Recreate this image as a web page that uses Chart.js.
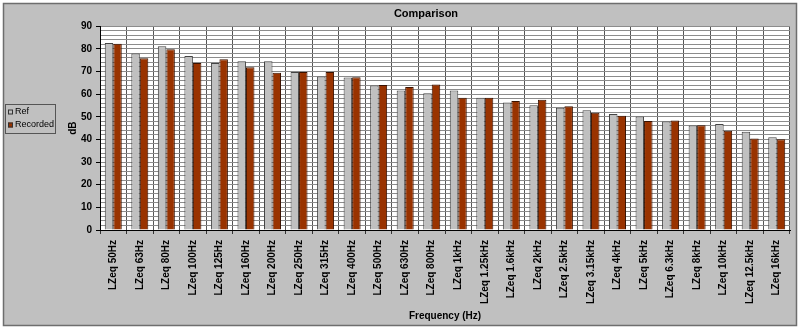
<!DOCTYPE html>
<html>
<head>
<meta charset="utf-8">
<title>Comparison</title>
<script src="https://cdn.jsdelivr.net/npm/chart.js@4/dist/chart.umd.min.js"></script>
<style>
  body { margin: 0; background: #fff; }
  canvas { display: block; }
</style>
</head>
<body>
<canvas id="comparison_chart" width="800" height="329"></canvas>
<script>
const bands = [
  'LZeq 50Hz', 'LZeq 63Hz', 'LZeq 80Hz', 'LZeq 100Hz', 'LZeq 125Hz', 'LZeq 160Hz',
  'LZeq 200Hz', 'LZeq 250Hz', 'LZeq 315Hz', 'LZeq 400Hz', 'LZeq 500Hz', 'LZeq 630Hz',
  'LZeq 800Hz', 'LZeq 1kHz', 'LZeq 1.25kHz', 'LZeq 1.6kHz', 'LZeq 2kHz', 'LZeq 2.5kHz',
  'LZeq 3.15kHz', 'LZeq 4kHz', 'LZeq 5kHz', 'LZeq 6.3kHz', 'LZeq 8kHz', 'LZeq 10kHz',
  'LZeq 12.5kHz', 'LZeq 16kHz'
];

const refLevels = [
  82.6, 77.9, 81.2, 76.8, 73.7, 74.5, 74.5, 69.8, 67.8, 67.3, 63.8, 61.6, 60.4,
  61.6, 58.4, 56.3, 55.1, 54.0, 52.9, 51.2, 50.1, 47.9, 46.2, 46.8, 43.4, 41.0
];

const recordedLevels = [
  82.2, 75.9, 79.8, 73.8, 75.4, 71.9, 69.4, 69.8, 69.8, 67.5, 64.0, 63.1, 64.3,
  58.4, 58.4, 57.0, 57.5, 54.6, 51.8, 50.5, 48.1, 48.4, 46.3, 43.8, 40.4, 40.1
];

const FONT = '"Liberation Sans", Arial, sans-serif';

// grey frame + white plot area, drawn under everything
const backdrop = {
  id: 'backdrop',
  beforeDraw(chart) {
    const ctx = chart.ctx;
    const a = chart.chartArea;
    ctx.save();
    ctx.fillStyle = '#ffffff';
    ctx.fillRect(0, 0, chart.width, chart.height);
    ctx.fillStyle = '#c0c0c0';
    ctx.fillRect(3, 3, chart.width - 6, chart.height - 6);
    ctx.strokeStyle = '#6e6e6e';
    ctx.lineWidth = 1.5;
    ctx.strokeRect(3.5, 3.5, chart.width - 7, chart.height - 7);
    ctx.fillStyle = '#ffffff';
    ctx.fillRect(a.left, a.top, a.right - a.left, a.bottom - a.top);
    ctx.restore();
  }
};

// boxed legend sitting on the left, like the old spreadsheet one
const boxLegend = {
  id: 'boxLegend',
  afterDraw(chart) {
    const ctx = chart.ctx;
    ctx.save();
    ctx.strokeStyle = '#555';
    ctx.lineWidth = 1;
    ctx.strokeRect(5.5, 104.5, 50, 29);
    ctx.font = '9px ' + FONT;
    ctx.textBaseline = 'middle';
    chart.data.datasets.forEach((ds, i) => {
      const y = 112 + i * 13;
      ctx.fillStyle = ds.backgroundColor;
      ctx.fillRect(8, y - 2.5, 5, 5);
      ctx.strokeStyle = '#333';
      ctx.strokeRect(8.5, y - 2, 4, 4);
      ctx.fillStyle = '#000';
      ctx.fillText(ds.label, 15, y);
    });
    ctx.restore();
  }
};

const data = {
  labels: bands,
  datasets: [
    {
      label: 'Ref',
      data: refLevels,
      backgroundColor: '#c0c0c0',
      borderColor: '#444',
      borderWidth: 1
    },
    {
      label: 'Recorded',
      data: recordedLevels,
      backgroundColor: '#993300',
      borderColor: '#3a1200',
      borderWidth: 1
    }
  ]
};

const config = {
  type: 'bar',
  data: data,
  plugins: [backdrop, boxLegend],
  options: {
    responsive: false,
    animation: false,
    devicePixelRatio: 1,
    layout: { padding: { left: 62, right: 10, top: 0, bottom: 0 } },
    datasets: {
      bar: { categoryPercentage: 0.64, barPercentage: 1.0 }
    },
    plugins: {
      legend: { display: false },
      tooltip: { enabled: false },
      title: {
        display: true,
        text: 'Comparison',
        color: '#000',
        font: { family: FONT, size: 11, weight: 'bold' },
        padding: { top: 7, bottom: 6 }
      }
    },
    scales: {
      x: {
        afterFit: (s) => { s.height = 99; },
        grid: {
          offset: true,
          color: '#555',
          tickColor: '#333',
          tickLength: 4
        },
        border: { color: '#000' },
        ticks: {
          autoSkip: false,
          minRotation: 90,
          maxRotation: 90,
          padding: 6,
          color: '#000',
          font: { family: FONT, size: 10, weight: 'bold' }
        },
        title: {
          display: true,
          text: 'Frequency (Hz)',
          color: '#000',
          font: { family: FONT, size: 10, weight: 'bold' },
          padding: { top: 4, bottom: 7 }
        }
      },
      y: {
        min: 0,
        max: 90,
        afterFit: (s) => { s.width = 38; },
        grid: {
          color: '#8c8c8c',
          tickLength: 4,
          tickColor: (ctx) => (ctx.tick && ctx.tick.value % 10 === 0 ? '#000' : 'rgba(0,0,0,0)')
        },
        border: { color: '#000' },
        ticks: {
          stepSize: 2,
          autoSkip: false,
          maxTicksLimit: 100,
          padding: 4,
          color: '#000',
          font: { family: FONT, size: 10, weight: 'bold' },
          callback: (v) => (v % 10 === 0 ? v : '')
        },
        title: {
          display: true,
          text: 'dB',
          color: '#000',
          font: { family: FONT, size: 10, weight: 'bold' },
          padding: { top: 5, bottom: 0 }
        }
      }
    }
  }
};

const comparisonChart = new Chart(
  document.getElementById('comparison_chart'),
  config
);
</script>
</body>
</html>
